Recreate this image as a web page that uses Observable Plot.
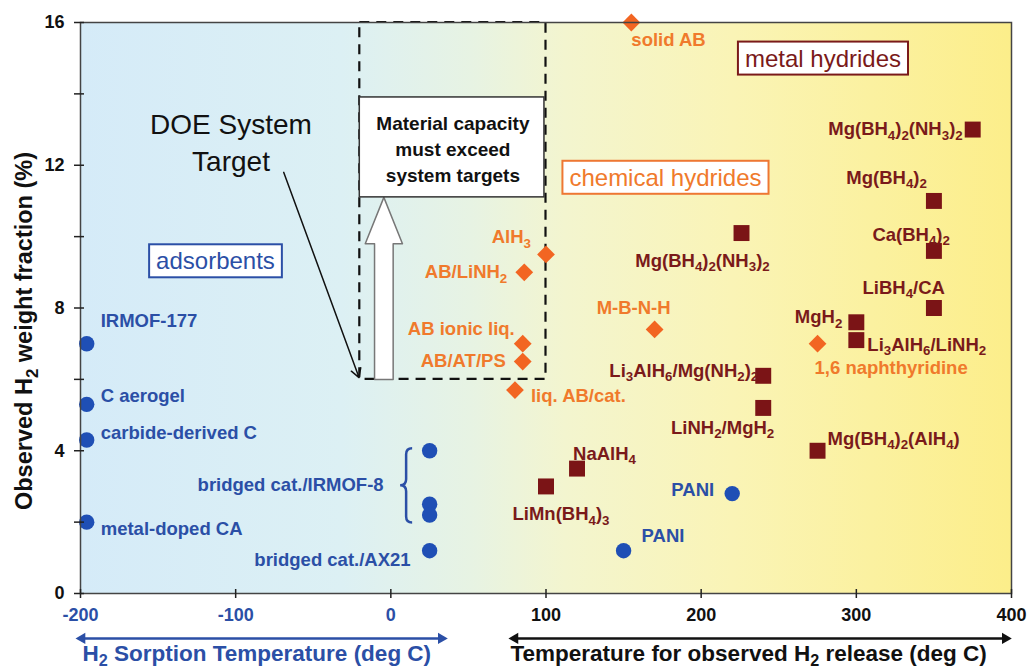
<!DOCTYPE html>
<html><head><meta charset="utf-8">
<script src="https://cdn.jsdelivr.net/npm/d3@7"></script>
<script src="https://cdn.jsdelivr.net/npm/@observablehq/plot@0.6"></script>
<style>
body{margin:0;background:#fff;}
#chart svg{display:block;}
</style></head><body><div id="chart"></div>
<script>
// ---------- data ----------
const adsorbentNames = ["IRMOF-177","C aerogel","carbide-derived C","metal-doped CA","bridged cat./IRMOF-8","bridged cat./IRMOF-8","bridged cat./IRMOF-8","bridged cat./AX21","PANI","PANI"];
const adsorbentTemp  = [-196,-196,-196,-196,25,25,25,25,150,220];
const adsorbentWt    = [7.0,5.3,4.3,2.0,4.0,2.5,2.2,1.2,1.2,2.8];

const chemicalNames = ["solid AB","AlH₃","AB/LiNH₂","AB ionic liq.","AB/AT/PS","liq. AB/cat.","M-B-N-H","1,6 naphthyridine"];
const chemicalTemp  = [155,100,86,85,85,80,170,275];
const chemicalWt    = [16.0,9.5,9.0,7.0,6.5,5.7,7.4,7.0];

const metalNames = ["Mg(BH₄)₂(NH₃)₂","Mg(BH₄)₂","Ca(BH₄)₂","LiBH₄/CA","MgH₂","Li₃AlH₆/LiNH₂","Mg(BH₄)₂(NH₃)₂","Li₃AlH₆/Mg(NH₂)₂","LiNH₂/MgH₂","Mg(BH₄)₂(AlH₄)","NaAlH₄","LiMn(BH₄)₃"];
const metalTemp  = [375,350,350,350,300,300,226,240,240,275,120,100];
const metalWt    = [13.0,11.0,9.6,8.0,7.6,7.1,10.1,6.1,5.2,4.0,3.5,3.0];

const xTicksBlue  = [-200,-100,0];
const xTicksBlack = [100,200,300,400];
const yTickLabels = [0,4,8,12,16];
const yTicksAll   = [0,2,4,6,8,10,12,14,16];

const categoryLabels = ["adsorbents","chemical hydrides","metal hydrides"];
const yTitle = "Observed H₂ weight fraction (%)";
const xTitleLeft = "H₂ Sorption Temperature (deg C)";
const xTitleRight = "Temperature for observed H₂ release (deg C)";
const doeText = "DOE System\nTarget";
const targetText = "Material capacity\nmust exceed\nsystem targets";

// ---------- layout (label offsets in px: dx, dy, anchor) ----------
const adsorbentLabelPos = [[14,-23,"start"],[14,-8,"start"],[14,-6.5,"start"],[14,6.5,"start"],null,[-46,-19,"end"],null,[-19,9,"end"],[18,-15,"start"],[-18,-3,"end"]];
const chemicalLabelPos = [[0,18,"start"],[-15,-17,"end"],[-17,0,"end"],[-8,-15,"end"],[-17,0,"end"],[16,6,"start"],[-21,-21,"middle"],[-3,24,"start"]];
const metalLabelPos = [[-10,0,"end"],[-7,-23,"end"],[16,-16,"end"],[11,-20,"end"],[-14,-5,"end"],[11,4.5,"start"],[-39,28,"middle"],[-5,-5,"end"],[11,20,"end"],[10,-12,"start"],[-4,-15,"start"],[15,28,"middle"]];

const BLUE = "#2b4fa6", BLUE_DOT = "#1f4fb5";
const ORANGE = "#f07a2c", ORANGE_DOT = "#f26522";
const RED = "#7a1a1a", RED_DOT = "#7b1416";
const FONT = "'Liberation Sans', Arial, sans-serif";

const toRows = (names, t, w) => names.map((n, i) => ({name: n, temp: t[i], wt: w[i]}));
const adsorbents = toRows(adsorbentNames, adsorbentTemp, adsorbentWt);
const chemicals = toRows(chemicalNames, chemicalTemp, chemicalWt);
const metals = toRows(metalNames, metalTemp, metalWt);

function labelMarks(rows, layout, color) {
  return rows.map((r, i) => layout[i] ? Plot.text([r], {
    x: "temp", y: "wt", text: "name", dx: layout[i][0], dy: layout[i][1], textAnchor: layout[i][2],
    fill: color, fontSize: 18.5, fontWeight: "bold"
  }) : null).filter(Boolean);
}

// annotation geometry (data units)
const dashedBox = [{x1: -20, x2: 100, y1: 6, y2: 16}];
const targetBox = [{x1: -20, x2: 99, y1: 11.1, y2: 13.9}];
const ax = -4.5, shaft = 6, head = 12;
const blockArrow = [[ax-shaft,6],[ax-shaft,9.8],[ax-head,9.8],[ax,11.1],[ax+head,9.8],[ax+shaft,9.8],[ax+shaft,6],[ax-shaft,6]];
const axisArrowY = -1.26;
const fmt = d => String(d);

const chart = Plot.plot({
  width: 1030, height: 671,
  marginTop: 22, marginLeft: 80, marginRight: 19, marginBottom: 78,
  style: {fontFamily: FONT, background: "transparent", overflow: "visible"},
  x: {domain: [-200, 400]},
  y: {domain: [0, 16]},
  marks: [
    Plot.frame({fill: "#e8f2e9"}),
    Plot.rect(dashedBox, {x1: "x1", x2: "x2", y1: "y1", y2: "y2", fill: "none", stroke: "#111", strokeWidth: 2.2, strokeDasharray: "10,7"}),
    Plot.line(blockArrow, {x: d => d[0], y: d => d[1], fill: "white", stroke: "#777", strokeWidth: 1.5}),
    Plot.rect(targetBox, {x1: "x1", x2: "x2", y1: "y1", y2: "y2", fill: "white", stroke: "#333", strokeWidth: 1.5}),
    Plot.text([targetText], {x: 40, y: 12.5, text: d => d, fontSize: 19, fontWeight: "bold", lineHeight: 1.38, fill: "#111"}),
    Plot.text([doeText], {x: -103, y: 12.68, text: d => d, fontSize: 28, lineHeight: 1.3, fill: "#111"}),
    Plot.arrow([0], {x1: -69, y1: 11.8, x2: -20.5, y2: 6.05, stroke: "#111", strokeWidth: 1.5, headLength: 10}),
    Plot.text([categoryLabels[0]], {x: -113, y: 9.3, text: d => d, fontSize: 24, fill: BLUE}),
    Plot.text([categoryLabels[1]], {x: 177, y: 11.64, text: d => d, fontSize: 24, fill: ORANGE}),
    Plot.text([categoryLabels[2]], {x: 278.5, y: 14.98, text: d => d, fontSize: 24, fill: RED}),
    Plot.dot(adsorbents, {x: "temp", y: "wt", r: 7.7, fill: BLUE_DOT}),
    Plot.dot(chemicals, {x: "temp", y: "wt", r: 8, symbol: "diamond2", fill: ORANGE_DOT}),
    Plot.dot(metals, {x: "temp", y: "wt", r: 9, symbol: "square", fill: RED_DOT}),
    ...labelMarks(adsorbents, adsorbentLabelPos, BLUE),
    ...labelMarks(chemicals, chemicalLabelPos, ORANGE),
    ...labelMarks(metals, metalLabelPos, RED),
    Plot.frame({stroke: "#444", strokeWidth: 1.5}),
    Plot.axisY(yTicksAll, {tickSize: 10, dx: 4, fill: "none", stroke: "#222", strokeWidth: 1.5, label: null}),
    Plot.axisY(yTickLabels, {tickSize: 0, tickPadding: 16, tickFormat: fmt, fontSize: 18, fontWeight: "bold", fill: "#111", label: null}),
    Plot.axisX([...xTicksBlue, ...xTicksBlack], {tickSize: 9, dy: -4, fill: "none", stroke: "#222", strokeWidth: 1.5, label: null}),
    Plot.axisX(xTicksBlue, {tickSize: 0, tickPadding: 15, tickFormat: fmt, fontSize: 18, fontWeight: "bold", fill: BLUE, label: null}),
    Plot.axisX(xTicksBlack, {tickSize: 0, tickPadding: 15, tickFormat: fmt, fontSize: 18, fontWeight: "bold", fill: "#111", label: null}),
    Plot.text([yTitle], {frameAnchor: "left", rotate: -90, dx: -56, dy: 23, textAnchor: "middle", lineAnchor: "middle", text: d => d, fontSize: 23.5, fontWeight: "bold", fill: "#111"}),
    Plot.text([xTitleLeft], {frameAnchor: "bottom-left", dx: 2, dy: 60, textAnchor: "start", lineAnchor: "middle", text: d => d, fontSize: 22.5, fontWeight: "bold", fill: BLUE}),
    Plot.text([xTitleRight], {frameAnchor: "bottom-left", dx: 430, dy: 60, textAnchor: "start", lineAnchor: "middle", text: d => d, fontSize: 22.5, fontWeight: "bold", fill: "#111"}),
    Plot.ruleY([axisArrowY], {x1: -199, x2: 32.5, stroke: BLUE, strokeWidth: 2.5}),
    Plot.dot([[-199, -90], [32.5, 90]], {x: d => d[0], y: axisArrowY, rotate: d => d[1], symbol: "triangle", r: 4.2, fill: BLUE}),
    Plot.ruleY([axisArrowY], {x1: 80, x2: 396, stroke: "#111", strokeWidth: 2.5}),
    Plot.dot([[80, -90], [396, 90]], {x: d => d[0], y: axisArrowY, rotate: d => d[1], symbol: "triangle", r: 4.2, fill: "#111"})
  ]
});

document.getElementById("chart").appendChild(chart);
const svg = chart.tagName.toLowerCase() === "svg" ? chart : chart.querySelector("svg");
const NS = "http://www.w3.org/2000/svg";

// background gradient
const defs = document.createElementNS(NS, "defs");
defs.innerHTML = `<linearGradient id="bgGrad" x1="0" x2="1" y1="0" y2="0">
  <stop offset="0" stop-color="#d5ebf8"/><stop offset="0.28" stop-color="#dcf0f4"/>
  <stop offset="0.42" stop-color="#e7f3e3"/><stop offset="0.52" stop-color="#f3f5cf"/>
  <stop offset="0.7" stop-color="#faf4b6"/><stop offset="1" stop-color="#fcee8a"/></linearGradient>`;
svg.insertBefore(defs, svg.firstChild);
svg.querySelectorAll('[fill="#e8f2e9"]').forEach(e => e.setAttribute("fill", "url(#bgGrad)"));

// category label boxes
const boxColors = {"adsorbents": BLUE, "chemical hydrides": "#ee7733", "metal hydrides": RED};
svg.querySelectorAll("text").forEach(t => {
  const c = boxColors[t.textContent];
  if (!c) return;
  const b = t.getBBox();
  const r = document.createElementNS(NS, "rect");
  r.setAttribute("x", b.x - 7); r.setAttribute("y", b.y - 3);
  r.setAttribute("width", b.width + 14); r.setAttribute("height", b.height + 6);
  r.setAttribute("fill", "white"); r.setAttribute("stroke", c); r.setAttribute("stroke-width", 2);
  if (t.getAttribute("transform")) r.setAttribute("transform", t.getAttribute("transform"));
  t.parentNode.insertBefore(r, t);
});

// subscripts
const subMap = {"₀":"0","₁":"1","₂":"2","₃":"3","₄":"4","₅":"5","₆":"6","₇":"7","₈":"8","₉":"9"};
svg.querySelectorAll("text").forEach(t => {
  if (t.children.length) return;
  const s = t.textContent;
  if (!/[₀-₉]/.test(s)) return;
  const fs = parseFloat(getComputedStyle(t).fontSize) || 18;
  const shift = fs * 0.24;
  t.textContent = "";
  let down = false;
  for (const run of s.match(/[₀-₉]+|[^₀-₉]+/g)) {
    const ts = document.createElementNS(NS, "tspan");
    if (/[₀-₉]/.test(run)) {
      ts.textContent = run.replace(/./g, c => subMap[c]);
      ts.setAttribute("font-size", fs * 0.72);
      if (!down) { ts.setAttribute("dy", shift); down = true; }
    } else {
      ts.textContent = run;
      if (down) { ts.setAttribute("dy", -shift); down = false; }
    }
    t.appendChild(ts);
  }
});

// curly brace for the bridged cat./IRMOF-8 group
const xs = chart.scale("x"), ys = chart.scale("y");
const grp = adsorbents.filter(d => d.name === "bridged cat./IRMOF-8");
const gx = xs.apply(grp[0].temp);
const yt = ys.apply(d3.max(grp, d => d.wt)) - 2, yb = ys.apply(d3.min(grp, d => d.wt)) + 8;
const ym = (yt + yb) / 2, xr = gx - 17, xm = xr - 6, xl = xm - 6, rr = 6;
const brace = document.createElementNS(NS, "path");
brace.setAttribute("d", `M${xr},${yt} Q${xm},${yt} ${xm},${yt+rr} L${xm},${ym-rr} Q${xm},${ym} ${xl},${ym} Q${xm},${ym} ${xm},${ym+rr} L${xm},${yb-rr} Q${xm},${yb} ${xr},${yb}`);
brace.setAttribute("fill", "none"); brace.setAttribute("stroke", BLUE); brace.setAttribute("stroke-width", 2.5);
svg.appendChild(brace);
</script>
</body></html>
